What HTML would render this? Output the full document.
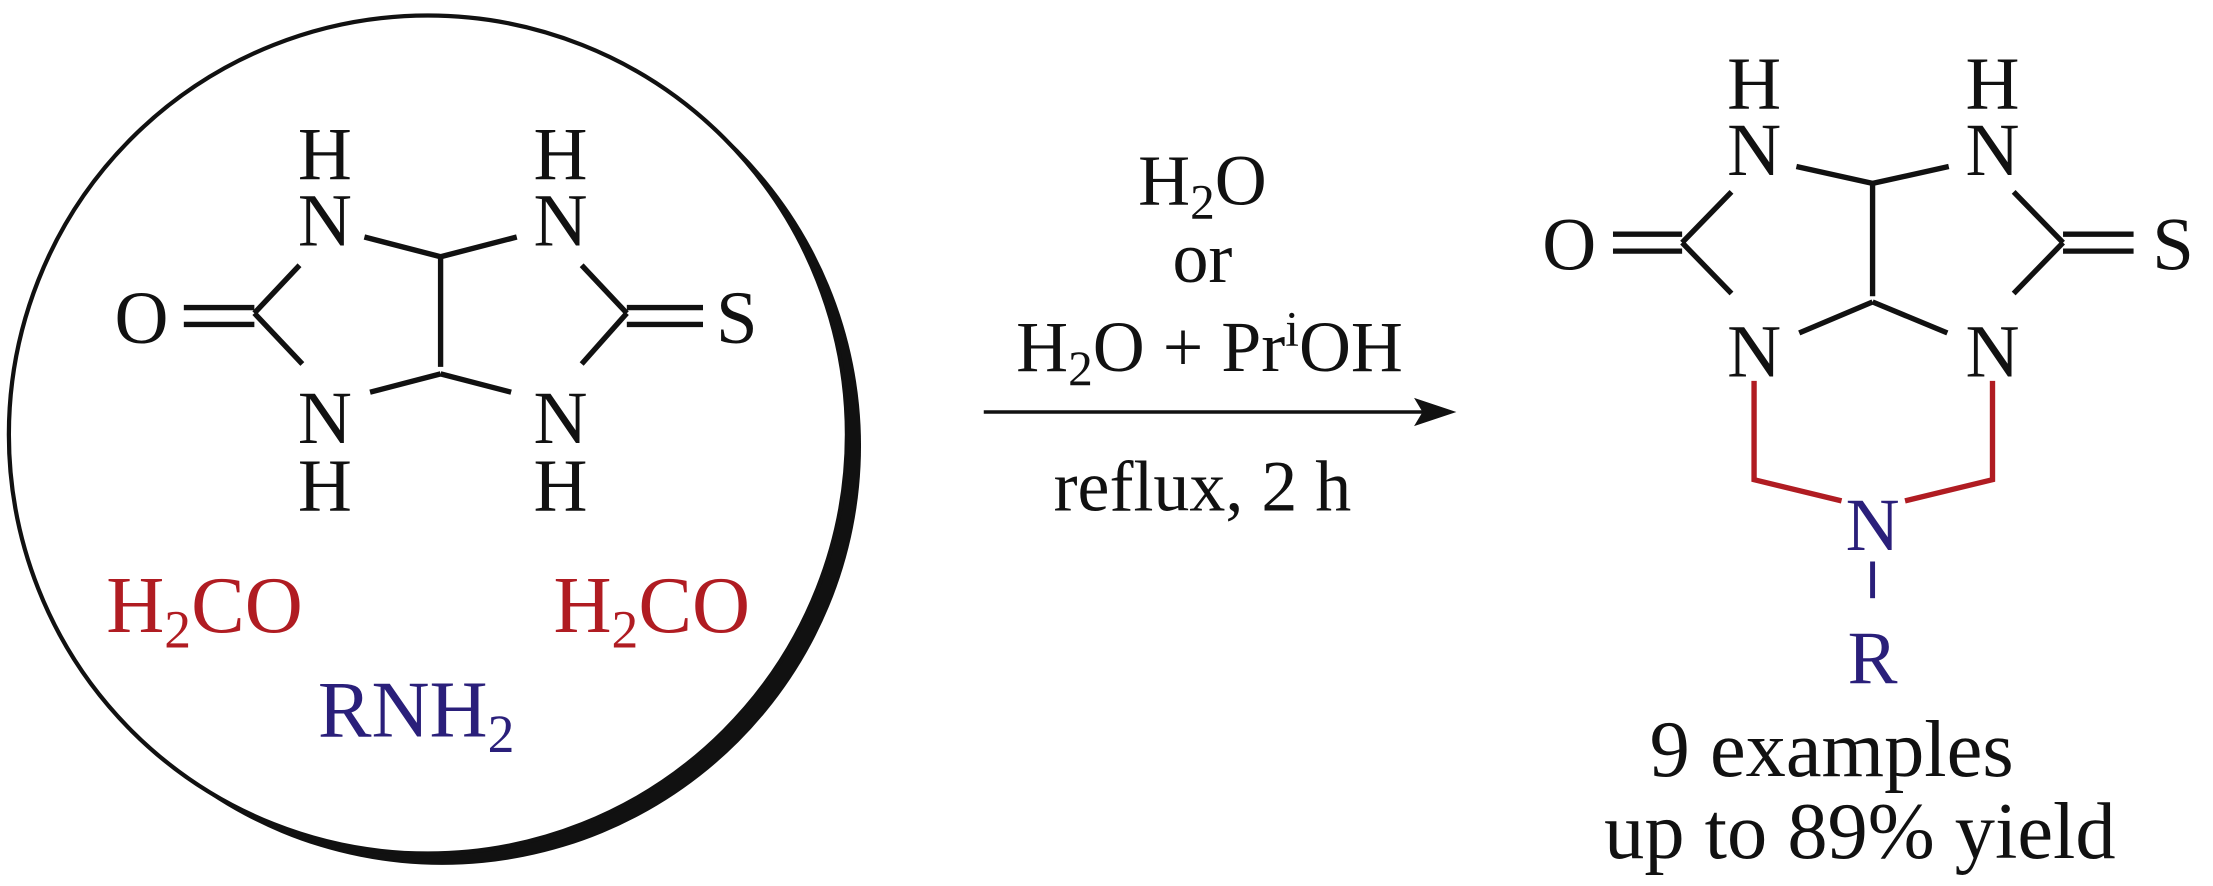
<!DOCTYPE html>
<html><head><meta charset="utf-8"><style>
html,body{margin:0;padding:0;background:#fff;}
svg{display:block;}
text{font-family:"Liberation Serif",serif;}
</style></head><body>
<svg width="2213" height="886" viewBox="0 0 1568 628" xmlns="http://www.w3.org/2000/svg">
<circle cx="313" cy="316" r="297" fill="#111"/>
<circle cx="303" cy="308" r="297" fill="#fff" stroke="#111" stroke-width="3"/>

<g stroke="#111" stroke-width="3.8" fill="none" stroke-linecap="butt">
  <line x1="258" y1="168" x2="312" y2="182"/>
  <line x1="366" y1="168" x2="312" y2="182"/>
  <line x1="312" y1="182" x2="312" y2="260"/>
  <line x1="262" y1="278" x2="312" y2="265"/>
  <line x1="362" y1="278" x2="312" y2="265"/>
  <line x1="212" y1="188" x2="180" y2="222"/>
  <line x1="180" y1="222" x2="214" y2="258"/>
  <line x1="130" y1="218" x2="180" y2="218"/>
  <line x1="130" y1="230" x2="180" y2="230"/>
  <line x1="412" y1="188" x2="444" y2="222"/>
  <line x1="444" y1="222" x2="412" y2="258"/>
  <line x1="444" y1="218" x2="498" y2="218"/>
  <line x1="444" y1="230" x2="498" y2="230"/>
  <line x1="1273" y1="118" x2="1327" y2="130"/>
  <line x1="1381" y1="118" x2="1327" y2="130"/>
  <line x1="1327" y1="130" x2="1327" y2="210"/>
  <line x1="1275" y1="236" x2="1327" y2="214"/>
  <line x1="1380" y1="236" x2="1327" y2="214"/>
  <line x1="1227" y1="136" x2="1192" y2="172"/>
  <line x1="1192" y1="172" x2="1227" y2="208"/>
  <line x1="1143" y1="166" x2="1192" y2="166"/>
  <line x1="1143" y1="178" x2="1192" y2="178"/>
  <line x1="1427" y1="136" x2="1462" y2="172"/>
  <line x1="1462" y1="172" x2="1427" y2="208"/>
  <line x1="1462" y1="166" x2="1512" y2="166"/>
  <line x1="1462" y1="178" x2="1512" y2="178"/>
  <line x1="697" y1="292" x2="1010" y2="292" stroke-width="2.5"/>
</g>
<polygon points="1032,292 1002,282 1008,292 1002,302" fill="#111"/>

<g stroke="#b01c22" stroke-width="3.8" fill="none">
  <polyline points="1243,270 1243,340 1305,355"/>
  <polyline points="1412,270 1412,340 1350,355"/>
</g>
<line x1="1327" y1="398" x2="1327" y2="424" stroke="#2a1f7a" stroke-width="3.5"/>

<g font-size="53" fill="#111" text-anchor="middle">
  <text x="230" y="127">H</text>
  <text x="230" y="174">N</text>
  <text x="230" y="314">N</text>
  <text x="230" y="362">H</text>
  <text x="397" y="127">H</text>
  <text x="397" y="174">N</text>
  <text x="397" y="314">N</text>
  <text x="397" y="362">H</text>
  <text x="100" y="243">O</text>
  <text x="522" y="243">S</text>
  <text x="1243" y="77">H</text>
  <text x="1243" y="124">N</text>
  <text x="1243" y="267">N</text>
  <text x="1412" y="77">H</text>
  <text x="1412" y="124">N</text>
  <text x="1412" y="267">N</text>
  <text x="1112" y="191">O</text>
  <text x="1540" y="191">S</text>
</g>
<g font-size="53" text-anchor="middle">
  <text x="1327" y="390" fill="#2a1f7a">N</text>
  <text x="1327" y="484" fill="#2a1f7a">R</text>
</g>

<g font-size="57">
  <text x="75" y="448" fill="#b01c22">H<tspan font-size="38" dy="11">2</tspan><tspan dy="-11">CO</tspan></text>
  <text x="392" y="448" fill="#b01c22">H<tspan font-size="38" dy="11">2</tspan><tspan dy="-11">CO</tspan></text>
  <text x="225" y="522" fill="#2a1f7a">RNH<tspan font-size="38" dy="11">2</tspan></text>
</g>

<g font-size="51" fill="#111" text-anchor="middle">
  <text x="852" y="145">H<tspan font-size="35" dy="10">2</tspan><tspan dy="-10">O</tspan></text>
  <text x="852" y="200">or</text>
  <text x="857" y="263">H<tspan font-size="35" dy="10">2</tspan><tspan dy="-10">O + Pr</tspan><tspan font-size="35" dy="-18">i</tspan><tspan dy="18">OH</tspan></text>
  <text x="852" y="362">reflux, 2 h</text>
</g>
<g font-size="57" fill="#111" text-anchor="middle">
  <text x="1298" y="550">9 examples</text>
  <text x="1318" y="608">up to 89% yield</text>
</g>
</svg>
</body></html>
